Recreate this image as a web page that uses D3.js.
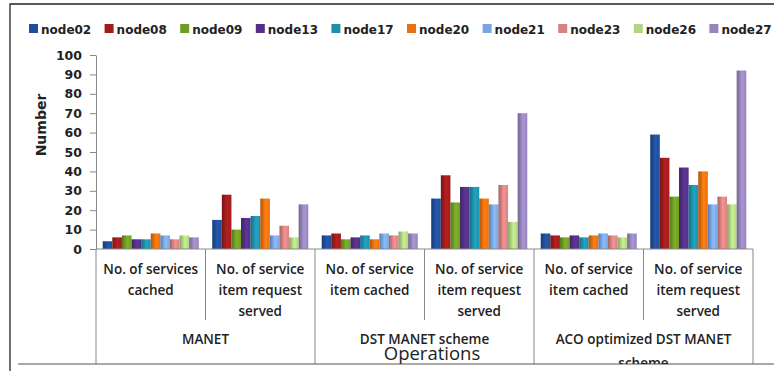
<!DOCTYPE html>
<html>
<head>
<meta charset="utf-8">
<script src="https://cdn.jsdelivr.net/npm/d3@7/dist/d3.min.js"></script>
<style>
  html, body { margin: 0; padding: 0; background: #fff; }
  svg { display: block; }
</style>
</head>
<body>
<svg id="chart" width="774" height="371"></svg>
<script>
// Node series, one value per operation column
const nodes = ["node02","node08","node09","node13","node17","node20","node21","node23","node26","node27"];
const colors = ["#1f4e9a","#a01c1c","#6f9d24","#533084","#1d91ab","#ec700e","#7aa6e0","#d98282","#b2d583","#9784bc"];

const categories = [
  ["No. of services", "cached"],
  ["No. of service", "item request", "served"],
  ["No. of service", "item cached"],
  ["No. of service", "item request", "served"],
  ["No. of service", "item cached"],
  ["No. of service", "item request", "served"]
];
const groups = [["MANET"], ["DST MANET scheme"], ["ACO optimized DST MANET", "scheme"]];

const node02 = [4, 15, 7, 26, 8, 59];
const node08 = [6, 28, 8, 38, 7, 47];
const node09 = [7, 10, 5, 24, 6, 27];
const node13 = [5, 16, 6, 32, 7, 42];
const node17 = [5, 17, 7, 32, 6, 33];
const node20 = [8, 26, 5, 26, 7, 40];
const node21 = [7, 7, 8, 23, 8, 23];
const node23 = [5, 12, 7, 33, 7, 27];
const node26 = [7, 6, 9, 14, 6, 23];
const node27 = [6, 23, 8, 70, 8, 92];
const seriesValues = [node02, node08, node09, node13, node17, node20, node21, node23, node26, node27];

const yTicks = [0,10,20,30,40,50,60,70,80,90,100];

const svg = d3.select("#chart");
const plotLeft = 96, plotRight = 753, plotTop = 55, plotBottom = 249;

const x0 = d3.scaleBand().domain(d3.range(categories.length)).range([plotLeft, plotRight]).padding(0);
const x1 = d3.scaleBand().domain(nodes).range([0, x0.bandwidth()]).paddingInner(0).paddingOuter(0.7);
const y = d3.scaleLinear().domain([0, 100]).range([plotBottom, plotTop]);

// Outer frame
svg.append("path").attr("d", "M10,371 V4 H774").attr("fill", "none").attr("stroke", "#222").attr("stroke-width", 1.3);

// Bar gradients
const defs = svg.append("defs");
nodes.forEach((n, i) => {
  const c = d3.color(colors[i]);
  const g = defs.append("linearGradient").attr("id", "g" + i).attr("x1", "0").attr("x2", "1").attr("y1", "0").attr("y2", "0");
  g.append("stop").attr("offset", "0%").attr("stop-color", c.darker(0.8));
  g.append("stop").attr("offset", "55%").attr("stop-color", c.brighter(0.35));
  g.append("stop").attr("offset", "100%").attr("stop-color", c);
});
defs.append("clipPath").attr("id", "clip").append("rect").attr("x", 0).attr("y", 0).attr("width", 774).attr("height", 364);

// Bars
const barLayer = svg.append("g");
nodes.forEach((n, i) => {
  barLayer.selectAll(null).data(seriesValues[i]).join("rect")
    .attr("x", (d, k) => x0(k) + x1(n))
    .attr("y", d => y(d))
    .attr("width", x1.bandwidth())
    .attr("height", d => y(0) - y(d))
    .attr("fill", `url(#g${i})`);
});

// Y axis
const yAxis = d3.axisLeft(y).tickValues(yTicks).tickSize(6).tickSizeOuter(0).tickPadding(8);
const ya = svg.append("g").attr("transform", `translate(${plotLeft},0)`).call(yAxis);
ya.select(".domain").attr("stroke", "#888");
ya.selectAll(".tick line").attr("stroke", "#888");
ya.selectAll(".tick text").attr("font-family", "DejaVu Sans").attr("font-weight", "bold").attr("font-size", 12.5).attr("fill", "#222");

svg.append("text").attr("transform", "translate(46,125) rotate(-90)").attr("text-anchor", "middle")
  .attr("font-family", "DejaVu Sans").attr("font-weight", "bold").attr("font-size", 14).attr("fill", "#222").text("Number");

// Category axis with multi-level separators
svg.append("line").attr("x1", plotLeft).attr("x2", plotRight).attr("y1", plotBottom).attr("y2", plotBottom).attr("stroke", "#888");
d3.range(categories.length + 1).forEach(k => {
  const xx = k < categories.length ? x0(k) : plotRight;
  const long = k % 2 === 0;
  svg.append("line").attr("x1", xx).attr("x2", xx).attr("y1", plotBottom).attr("y2", long ? 364 : 320).attr("stroke", "#888");
});
svg.append("line").attr("x1", 18).attr("x2", 774).attr("y1", 364).attr("y2", 364).attr("stroke", "#555");

const labelFont = "'Open Sans'";
categories.forEach((lines, k) => {
  const cx = x0(k) + x0.bandwidth() / 2;
  lines.forEach((t, j) => {
    svg.append("text").attr("x", cx).attr("y", 274 + j * 21).attr("text-anchor", "middle")
      .attr("font-family", labelFont).attr("font-weight", 600).attr("font-size", 13.5).attr("fill", "#222").text(t);
  });
});
const groupLayer = svg.append("g").attr("clip-path", "url(#clip)");
groups.forEach((lines, k) => {
  const cx = (x0(2 * k) + (2 * k + 2 < categories.length ? x0(2 * k + 2) : plotRight)) / 2;
  lines.forEach((t, j) => {
    groupLayer.append("text").attr("x", cx).attr("y", 344 + j * 24).attr("text-anchor", "middle")
      .attr("font-family", labelFont).attr("font-weight", 600).attr("font-size", 13.5).attr("fill", "#222").text(t);
  });
});

svg.append("text").attr("x", 432).attr("y", 360).attr("text-anchor", "middle")
  .attr("font-family", labelFont).attr("font-size", 18.5).attr("fill", "#222").text("Operations");

// Legend
const legend = svg.append("g");
nodes.forEach((n, i) => {
  const lx = 29 + i * 75.6;
  legend.append("rect").attr("x", lx).attr("y", 24).attr("width", 9).attr("height", 9).attr("fill", colors[i]);
  legend.append("text").attr("x", lx + 12).attr("y", 33.5)
    .attr("font-family", "DejaVu Sans").attr("font-weight", "bold").attr("font-size", 12).attr("fill", "#222").text(n);
});
</script>
</body>
</html>
